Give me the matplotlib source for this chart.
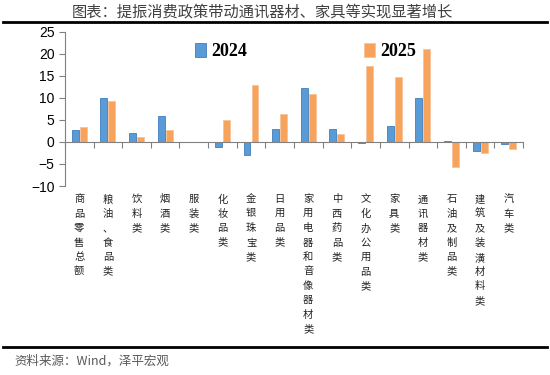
import matplotlib.pyplot as plt
import numpy as np
from matplotlib.lines import Line2D

plt.rcParams['font.family'] = ['Noto Sans CJK SC', 'DejaVu Sans']

categories = ['商品零售总额', '粮油、食品类', '饮料类', '烟酒类', '服装类', '化妆品类',
              '金银珠宝类', '日用品类', '家用电器和音像器材类', '中西药品类',
              '文化办公用品类', '家具类', '通讯器材类', '石油及制品类',
              '建筑及装潢材料类', '汽车类']
y2024 = [2.7, 9.9, 2.0, 5.8, 0.0, -1.1, -3.0, 3.0, 12.3, 3.0, -0.3, 3.7, 9.9, 0.3, -2.0, -0.5]
y2025 = [3.4, 9.4, 1.1, 2.7, 0.0, 5.1, 12.9, 6.3, 11.0, 1.8, 17.3, 14.7, 21.0, -5.7, -2.6, -1.5]
yticks = [-10, -5, 0, 5, 10, 15, 20, 25]

fig = plt.figure(figsize=(5.5, 3.75), dpi=100)
ax = fig.add_axes([0.118, 0.504, 0.833, 0.411])

x = np.arange(len(categories))
w = 0.24
b1 = ax.bar(x - 0.14, y2024, w, color='#5b9bd5', edgecolor='#3f7fbf', linewidth=0.6, label='2024')
b2 = ax.bar(x + 0.14, y2025, w, color='#f8a35c', edgecolor='#f6c39a', linewidth=0.6, label='2025')

ax.set_xlim(-0.5, len(categories) - 0.5)
ax.set_ylim(-10, 25)
ax.set_yticks(yticks)
ax.tick_params(axis='y', labelsize=10, length=4, color='#808080')
for t in ax.get_yticklabels():
    t.set_family('Liberation Sans')

ax.spines['top'].set_visible(False)
ax.spines['right'].set_visible(False)
ax.spines['left'].set_color('#808080')
ax.spines['bottom'].set_position(('data', 0))
ax.spines['bottom'].set_color('#808080')
ax.set_xticks(np.arange(len(categories) + 1) - 0.5)
ax.set_xticklabels([])
ax.tick_params(axis='x', length=4, color='#808080', direction='out')

# vertical stacked category labels
for i, c in enumerate(categories):
    ax.text(i, -11.9, '\n'.join(c), ha='center', va='top', fontsize=7.4,
            linespacing=1.55, color='#222222')

# legends
leg_kw = dict(loc='upper left', frameon=False,
              prop={'family': 'Liberation Serif', 'weight': 'bold', 'size': 13},
              handlelength=0.6, handleheight=0.8, handletextpad=0.3)
lg1 = ax.legend(handles=[b1], bbox_to_anchor=(0.248, 1.035), **leg_kw)
ax.add_artist(lg1)
ax.legend(handles=[b2], bbox_to_anchor=(0.617, 1.035), **leg_kw)

# title and frame lines
fig.text(0.477, 0.967, '图表：提振消费政策带动通讯器材、家具等实现显著增长', ha='center', va='center',
         fontsize=11, color='#404040')
fig.add_artist(Line2D([0.005, 0.995], [0.941, 0.941], color='black', lw=2))
fig.add_artist(Line2D([0.005, 0.995], [0.075, 0.075], color='black', lw=2))
fig.text(0.027, 0.038, '资料来源：Wind，泽平宏观', ha='left', va='center', fontsize=9,
         color='#595959', style='italic')

plt.savefig('out.png', dpi=100)
